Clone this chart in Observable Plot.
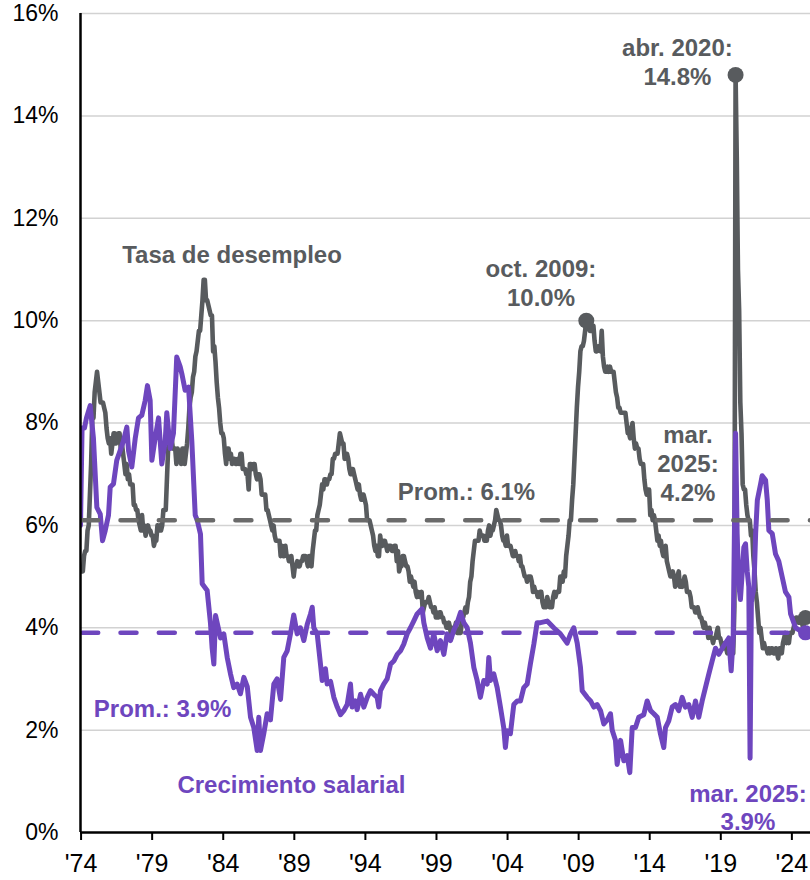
<!DOCTYPE html>
<html><head><meta charset="utf-8">
<script src="https://cdn.jsdelivr.net/npm/d3@7"></script>
<script src="https://cdn.jsdelivr.net/npm/@observablehq/plot@0.6"></script>
<style>body{margin:0;background:#fff} #chart svg{display:block}</style>
</head><body><div id="chart"></div>
<script>
// Tasa de desempleo, mensual, desde ene. 1974 hasta mar. 2025
const unempStart = 1974;
const unemp = [
5.1,5.2,5.1,5.1,5.1,5.4,5.5,5.5,5.9,6.0,6.6,7.2,
8.1,8.1,8.6,8.8,9.0,8.8,8.6,8.4,8.4,8.4,8.3,8.2,
7.9,7.7,7.6,7.7,7.4,7.6,7.8,7.8,7.6,7.7,7.8,7.8,
7.5,7.6,7.4,7.2,7.0,7.2,6.9,7.0,6.8,6.8,6.8,6.4,
6.4,6.3,6.3,6.1,6.0,5.9,6.2,5.9,6.0,5.8,5.9,6.0,
5.9,5.9,5.8,5.8,5.6,5.7,5.7,6.0,5.9,6.0,5.9,6.0,
6.3,6.3,6.3,6.9,7.5,7.6,7.8,7.7,7.5,7.5,7.5,7.2,
7.5,7.4,7.4,7.2,7.5,7.5,7.2,7.4,7.6,7.9,8.3,8.5,
8.6,8.9,9.0,9.3,9.4,9.6,9.8,9.8,10.1,10.4,10.8,10.8,
10.4,10.4,10.3,10.2,10.1,10.1,9.4,9.5,9.2,8.8,8.5,8.3,
8.0,7.8,7.8,7.7,7.4,7.2,7.5,7.5,7.3,7.4,7.2,7.3,
7.3,7.2,7.2,7.3,7.2,7.4,7.4,7.1,7.1,7.1,7.0,7.0,
6.7,7.2,7.2,7.1,7.2,7.2,7.0,6.9,7.0,7.0,6.9,6.6,
6.6,6.6,6.6,6.3,6.3,6.2,6.1,6.0,5.9,6.0,5.8,5.7,
5.7,5.7,5.7,5.4,5.6,5.4,5.4,5.6,5.4,5.4,5.3,5.3,
5.4,5.2,5.0,5.2,5.2,5.3,5.2,5.2,5.3,5.3,5.4,5.4,
5.4,5.3,5.2,5.4,5.4,5.2,5.5,5.7,5.9,5.9,6.2,6.3,
6.4,6.6,6.8,6.7,6.9,6.9,6.8,6.9,6.9,7.0,7.0,7.3,
7.3,7.4,7.4,7.4,7.6,7.8,7.7,7.6,7.6,7.3,7.4,7.4,
7.3,7.1,7.0,7.1,7.1,7.0,6.9,6.8,6.7,6.8,6.6,6.5,
6.6,6.6,6.5,6.4,6.1,6.1,6.1,6.0,5.9,5.8,5.6,5.5,
5.6,5.4,5.4,5.8,5.6,5.6,5.7,5.7,5.6,5.5,5.6,5.6,
5.6,5.5,5.5,5.6,5.6,5.3,5.5,5.1,5.2,5.2,5.4,5.4,
5.3,5.2,5.2,5.1,4.9,5.0,4.9,4.8,4.9,4.7,4.6,4.7,
4.6,4.6,4.7,4.3,4.4,4.5,4.5,4.5,4.6,4.5,4.4,4.4,
4.3,4.4,4.2,4.3,4.2,4.3,4.3,4.2,4.2,4.1,4.1,4.0,
4.0,4.1,4.0,3.8,4.0,4.0,4.0,4.1,3.9,3.9,3.9,3.9,
4.2,4.2,4.3,4.4,4.3,4.5,4.6,4.9,5.0,5.3,5.5,5.7,
5.7,5.7,5.7,5.9,5.8,5.8,5.8,5.7,5.7,5.7,5.9,6.0,
5.8,5.9,5.9,6.0,6.1,6.3,6.2,6.1,6.1,6.0,5.8,5.7,
5.7,5.6,5.8,5.6,5.6,5.6,5.5,5.4,5.4,5.5,5.4,5.4,
5.3,5.4,5.2,5.2,5.1,5.0,5.0,4.9,5.0,5.0,5.0,4.9,
4.7,4.8,4.7,4.7,4.6,4.6,4.7,4.7,4.5,4.4,4.5,4.4,
4.6,4.5,4.4,4.5,4.4,4.6,4.7,4.6,4.7,4.7,4.7,5.0,
5.0,4.9,5.1,5.0,5.4,5.6,5.8,6.1,6.1,6.5,6.8,7.3,
7.8,8.3,8.7,9.0,9.4,9.5,9.5,9.6,9.8,10.0,9.9,9.9,
9.8,9.8,9.9,9.9,9.6,9.4,9.4,9.5,9.5,9.4,9.8,9.3,
9.1,9.0,9.0,9.1,9.0,9.1,9.0,9.0,9.0,8.8,8.6,8.5,
8.3,8.3,8.2,8.2,8.2,8.2,8.2,8.0,7.8,7.8,7.7,7.9,
8.0,7.7,7.5,7.6,7.5,7.5,7.3,7.2,7.2,7.2,6.9,6.7,
6.6,6.7,6.7,6.2,6.3,6.1,6.2,6.1,5.9,5.7,5.8,5.6,
5.7,5.5,5.4,5.4,5.6,5.3,5.2,5.1,5.0,5.0,5.1,5.0,
4.8,4.9,5.0,5.1,4.8,4.9,4.8,4.9,5.0,4.9,4.7,4.7,
4.7,4.6,4.4,4.4,4.4,4.3,4.3,4.4,4.3,4.2,4.2,4.1,
4.0,4.1,4.0,4.0,3.8,4.0,3.8,3.8,3.7,3.8,3.8,3.9,
4.0,3.8,3.8,3.7,3.6,3.6,3.7,3.6,3.5,3.6,3.6,3.6,
3.6,3.5,4.4,14.8,13.2,11.0,10.2,8.4,7.8,6.8,6.7,6.7,
6.4,6.2,6.1,6.1,5.8,5.9,5.4,5.1,4.7,4.5,4.2,3.9,
4.0,3.8,3.6,3.7,3.6,3.6,3.5,3.6,3.5,3.6,3.6,3.5,
3.5,3.6,3.5,3.4,3.6,3.6,3.5,3.7,3.8,3.9,3.7,3.8,
3.7,3.9,3.9,3.9,4.0,4.1,4.2,4.2,4.1,4.1,4.2,4.1,
4.0,4.1,4.2
];

// Crecimiento salarial (% interanual)
const wageT = [
1974.17,1974.28,1974.45,1974.59,1974.85,1975.08,1975.32,1975.56,1975.72,1975.91,
1976.14,1976.26,1976.49,1976.72,1976.96,1977.19,1977.43,1977.55,1977.78,1978.02,
1978.25,1978.48,1978.72,1978.88,1979.07,1979.19,1979.42,1979.66,1979.89,1980.13,
1980.24,1980.48,1980.71,1980.94,1981.18,1981.30,1981.53,1981.77,1982.00,1982.24,
1982.38,1982.61,1982.73,1983.08,1983.31,1983.43,1983.55,1983.67,1984.02,1984.25,
1984.49,1984.72,1984.95,1985.19,1985.42,1985.66,1985.90,1986.13,1986.36,1986.60,
1986.71,1986.83,1987.06,1987.30,1987.53,1987.77,1988.00,1988.24,1988.47,1988.71,
1988.94,1989.17,1989.41,1989.64,1989.88,1990.12,1990.35,1990.47,1990.58,1990.82,
1991.05,1991.17,1991.40,1991.52,1991.76,1991.99,1992.23,1992.46,1992.69,1992.93,
1993.16,1993.28,1993.51,1993.63,1993.87,1994.10,1994.34,1994.57,1994.80,1995.04,
1995.15,1995.27,1995.50,1995.74,1995.98,1996.21,1996.45,1996.68,1996.91,1997.15,
1997.38,1997.61,1997.85,1998.20,1998.32,1998.56,1998.79,1999.02,1999.26,1999.49,
1999.73,1999.96,2000.20,2000.43,2000.67,2000.90,2001.13,2001.37,2001.60,2001.84,
2002.07,2002.30,2002.54,2002.78,2002.89,2003.01,2003.24,2003.48,2003.71,2003.94,
2004.06,2004.18,2004.41,2004.65,2004.89,2005.12,2005.35,2005.59,2005.82,2006.06,
2006.29,2006.53,2007.00,2007.46,2007.93,2008.40,2008.64,2008.87,2009.11,2009.34,
2009.46,2009.81,2010.05,2010.28,2010.51,2010.75,2010.98,2011.22,2011.45,2011.57,
2011.80,2011.92,2012.16,2012.39,2012.63,2012.81,2012.98,2013.21,2013.44,2013.79,
2014.03,2014.27,2014.50,2014.74,2014.97,2015.20,2015.32,2015.55,2015.79,2016.02,
2016.25,2016.49,2016.72,2016.96,2017.20,2017.43,2017.66,2017.90,2018.13,2018.37,
2018.60,2018.84,2019.07,2019.31,2019.54,2019.77,2019.94,2020.08,2020.25,2020.36,
2020.47,2020.59,2020.71,2020.83,2020.95,2021.07,2021.18,2021.27,2021.36,2021.54,
2021.66,2021.78,2022.01,2022.12,2022.36,2022.48,2022.59,2022.83,2023.06,2023.29,
2023.53,2023.76,2024.00,2024.12,2024.47,2024.82,2025.17
];
const wageV = [
6.0,7.9,7.9,8.1,8.34,7.7,6.35,6.22,5.7,5.9,
6.2,6.75,6.81,7.27,7.46,7.65,7.92,7.46,7.14,7.7,
8.1,8.15,8.44,8.73,8.44,7.27,7.7,8.1,7.2,7.65,
8.2,7.5,7.8,9.29,9.1,8.96,8.64,8.7,7.65,6.2,
6.1,5.83,4.86,4.73,4.1,3.6,3.29,4.24,3.8,3.88,
3.42,3.1,2.83,2.9,2.71,3.03,2.85,2.25,2.05,1.6,
2.25,1.6,1.93,2.32,2.2,2.9,3.0,2.6,3.42,3.55,
3.88,4.25,3.88,4.0,3.75,4.07,4.27,4.4,4.0,3.88,
3.29,2.97,3.2,2.9,2.95,2.64,2.45,2.3,2.38,2.5,
2.9,2.45,2.57,2.4,2.7,2.45,2.64,2.77,2.7,2.64,
2.45,2.77,2.9,3.0,3.29,3.35,3.48,3.55,3.68,3.88,
4.0,4.13,4.27,4.37,4.1,3.8,3.6,3.88,3.55,3.75,
3.48,3.88,3.75,3.95,4.1,4.3,4.1,4.0,3.7,3.22,
2.97,2.64,2.97,2.9,3.42,2.97,3.1,2.83,2.45,2.05,
1.66,1.99,1.93,2.5,2.57,2.57,2.83,2.9,3.3,3.68,
4.1,4.1,4.13,4.0,3.88,3.7,3.88,4.0,3.7,3.22,
2.77,2.64,2.57,2.45,2.5,2.38,2.12,2.2,2.32,2.0,
1.8,1.33,1.8,1.4,1.5,1.17,2.05,2.05,2.25,2.3,
2.57,2.38,2.32,2.25,1.92,1.66,2.05,2.18,2.45,2.5,
2.38,2.64,2.45,2.5,2.25,2.57,2.25,2.57,2.83,3.1,
3.35,3.6,3.48,3.6,3.7,3.8,3.16,3.8,7.8,5.84,
4.86,4.55,5.05,5.57,5.64,5.1,4.8,1.45,4.5,4.79,
5.84,6.49,6.81,6.97,6.88,6.49,5.9,5.84,5.44,5.3,
4.99,4.7,4.6,4.27,4.0,3.94,3.9
];

const unempAvg = 6.1;
const wageAvg = 3.9;
const yTicks = [0, 2, 4, 6, 8, 10, 12, 14, 16];
const xTickYears = [1974, 1979, 1984, 1989, 1994, 1999, 2004, 2009, 2014, 2019, 2024];
const xTickLabels = ["'74", "'79", "'84", "'89", "'94", "'99", "'04", "'09", "'14", "'19", "'24"];
const peakDates = [2009.75, 2020.25];
const peakValues = [10.0, 14.8];

const grayNotes = [
  {t: 1984.83, v: 11.31, text: "Tasa de desempleo"},
  {t: 2006.56, v: 10.75, text: "oct. 2009:\n10.0%"},
  {t: 2016.16, v: 15.07, text: "abr. 2020:\n14.8%"},
  {t: 2016.90, v: 7.22, text: "mar.\n2025:\n4.2%"},
  {t: 2001.32, v: 6.68, text: "Prom.: 6.1%"}
];
const purpleNotes = [
  {t: 1979.94, v: 2.42, text: "Prom.: 3.9%"},
  {t: 1989.01, v: 0.95, text: "Crecimiento salarial"},
  {t: 2021.12, v: 0.49, text: "mar. 2025:\n3.9%"}
];

const GRAY = "#585b5e";
const GRAYDASH = "#6a6a6a";
const PURPLE = "#6e46be";
const TICKOFF = 0.21;

const unempData = unemp.map((v, i) => ({t: unempStart + i / 12, v}));
const wageData = wageT.map((t, i) => ({t, v: wageV[i]}));
const peaks = peakDates.map((t, i) => ({t, v: peakValues[i]}));
const lastU = unempData[unempData.length - 1];
const lastW = wageData[wageData.length - 1];
const xDomain = [1974.17, 2025.52];
const tickPos = xTickYears.map(y => y + TICKOFF);
const tickLab = new Map(xTickYears.map((y, i) => [Math.round(y), xTickLabels[i]]));

const chart = Plot.plot({
  width: 810,
  height: 880,
  marginLeft: 80,
  marginRight: 0,
  marginTop: 13,
  marginBottom: 48,
  style: {fontFamily: "'Liberation Sans', Arial, Helvetica, sans-serif", background: "#fff"},
  x: {domain: xDomain, axis: null},
  y: {domain: [0, 16], axis: null},
  marks: [
    Plot.ruleY(yTicks.filter(d => d > 0), {stroke: "#d2d2d2", strokeWidth: 1.5}),
    Plot.line(unempData, {x: "t", y: "v", stroke: GRAY, strokeWidth: 4.6, clip: true}),
    Plot.line(wageData, {x: "t", y: "v", stroke: PURPLE, strokeWidth: 5, clip: true}),
    Plot.ruleY([unempAvg], {stroke: GRAYDASH, strokeWidth: 4.5, strokeDasharray: "16,22.3", strokeDashoffset: -2.2, strokeLinecap: "round"}),
    Plot.ruleY([wageAvg], {stroke: PURPLE, strokeWidth: 4.5, strokeDasharray: "16,22.3", strokeDashoffset: -2.2, strokeLinecap: "round"}),
    Plot.dot(peaks, {x: "t", y: "v", r: 8, fill: GRAY}),
    Plot.dot([lastU], {x: "t", y: "v", r: 7.5, fill: GRAY}),
    Plot.dot([lastW], {x: "t", y: "v", r: 7.5, fill: PURPLE}),
    Plot.text(grayNotes, {x: "t", y: "v", text: "text", fill: GRAY, fontSize: 24, fontWeight: "bold", lineHeight: 1.2, textAnchor: "middle", lineAnchor: "middle"}),
    Plot.text(purpleNotes, {x: "t", y: "v", text: "text", fill: PURPLE, fontSize: 24, fontWeight: "bold", lineHeight: 1.15, textAnchor: "middle", lineAnchor: "middle"}),
    Plot.ruleX([xDomain[0]], {stroke: "black", strokeWidth: 2.5}),
    Plot.ruleY([0], {stroke: "black", strokeWidth: 2.5}),
    Plot.axisY({ticks: yTicks, tickSize: 0, tickPadding: 22, fontSize: 23, color: "black", tickFormat: d => d + "%", label: null}),
    Plot.axisX({ticks: tickPos, tickSize: 8, tickPadding: 14, fontSize: 25, stroke: "black", strokeWidth: 2, color: "black", label: null,
      tickFormat: d => tickLab.get(Math.round(d - TICKOFF))})
  ]
});
document.getElementById("chart").appendChild(chart);
</script>
</body></html>
